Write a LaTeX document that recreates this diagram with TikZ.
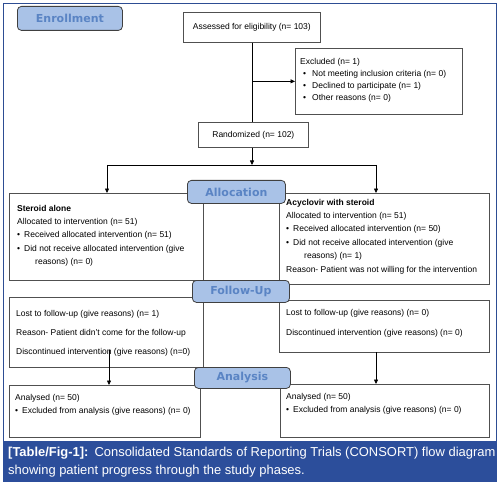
\documentclass[tikz,border=0pt]{standalone}
\usepackage{fontspec}
\setmainfont{Liberation Sans}
\newfontfamily\labfont{DejaVu Sans}
\usetikzlibrary{arrows.meta}
\definecolor{frameblue}{HTML}{2D4D93}
\definecolor{capblue}{HTML}{2C4E9B}
\definecolor{labfill}{HTML}{A9C2E7}
\definecolor{labtext}{HTML}{5A84C4}
\definecolor{boxline}{HTML}{505050}
\newcommand\myline[1]{\hbox{#1}}
\newcommand\mylines[2]{\vtop{\baselineskip=#1\relax\lineskiplimit=-30pt\lineskip=0pt #2}}
\newcommand\bul{\textbullet\hspace{4pt}}
\begin{document}
\begin{tikzpicture}[x=1pt,y=-1pt,
  box/.style={draw=boxline, line width=0.7pt, anchor=north west, inner sep=0pt, fill=white},
  phase/.style={draw=black!75, line width=0.8pt, fill=labfill, rounded corners=4pt, anchor=north west,
    inner sep=0pt, text=labtext, font=\labfont\bfseries\fontsize{11}{13}\selectfont},
  txt/.style={inner sep=0pt, anchor=base west, font=\fontsize{8.5}{10}\selectfont},
  ctxt/.style={inner sep=0pt, font=\fontsize{8.5}{10}\selectfont},
  arr/.style={draw=black, line width=0.7pt, -{Triangle[length=4.5pt,width=4pt]}},
  ln/.style={draw=black, line width=0.7pt}]
\useasboundingbox (0,0) rectangle (502,486);
\fill[white] (0,0) rectangle (502,486);
% frame and caption
\draw[frameblue, line width=1pt] (3.5,3.5) rectangle (496,441);
\node[fill=capblue, anchor=north west, inner sep=0pt, minimum width=494pt, minimum height=41pt] (capband) at (3,441) {};
\node[inner sep=0pt, anchor=base west, text=white, font=\fontsize{12.95}{17.5}\selectfont] (cap) at (8,456)
  {\mylines{18.5pt}{\myline{\textbf{[Table/Fig-1]:}\hspace{6pt}Consolidated Standards of Reporting Trials (CONSORT) flow diagram}\myline{showing patient progress through the study phases.}}};
% boxes
\node[box, minimum width=137pt, minimum height=30pt] (assess) at (183,12) {};
\node[ctxt] (assesst) at (assess.center) {Assessed for eligibility (n= 103)};
\node[box, minimum width=167pt, minimum height=66pt] (excl) at (295,48) {};
\node[txt] (exclt) at (300,65) {\mylines{12pt}{\myline{Excluded (n= 1)}%
  \myline{\hspace{3pt}\textbullet\hspace{6pt}Not meeting inclusion criteria (n= 0)}%
  \myline{\hspace{3pt}\textbullet\hspace{6pt}Declined to participate (n= 1)}%
  \myline{\hspace{3pt}\textbullet\hspace{6pt}Other reasons (n= 0)}}};
\node[box, minimum width=110pt, minimum height=25pt] (rand) at (198,122) {};
\node[ctxt] (randt) at (rand.center) {Randomized (n= 102)};
\node[box, minimum width=194pt, minimum height=87pt] (ster) at (9,193) {};
\node[txt] (stert) at (17,211) {\mylines{13.4pt}{\myline{\textbf{Steroid alone}}%
  \myline{Allocated to intervention (n= 51)}%
  \myline{\bul Received allocated intervention (n= 51)}%
  \myline{\bul Did not receive allocated intervention (give}%
  \myline{\hspace{18pt}reasons) (n= 0)}}};
\node[box, minimum width=210pt, minimum height=91pt] (acy) at (279,193) {};
\node[txt] (acyt) at (286,205) {\mylines{13.4pt}{\myline{\textbf{Acyclovir with steroid}}%
  \myline{Allocated to intervention (n= 51)}%
  \myline{\bul Received allocated intervention (n= 50)}%
  \myline{\bul Did not receive allocated intervention (give}%
  \myline{\hspace{18pt}reasons) (n= 1)}%
  \myline{Reason- Patient was not willing for the intervention}}};
\node[box, minimum width=194pt, minimum height=70pt] (fuL) at (9,297) {};
\node[txt] (fuLt) at (16,316) {\mylines{19pt}{\myline{Lost to follow-up (give reasons) (n= 1)}%
  \myline{Reason- Patient didn't come for the follow-up}%
  \myline{Discontinued intervention (give reasons) (n=0)}}};
\node[box, minimum width=210pt, minimum height=52pt] (fuR) at (279,300) {};
\node[txt] (fuRt) at (286,315) {\mylines{20pt}{\myline{Lost to follow-up (give reasons) (n= 0)}%
  \myline{Discontinued intervention (give reasons) (n= 0)}}};
\node[box, minimum width=191pt, minimum height=52pt] (anL) at (9,385) {};
\node[txt] (anLt) at (15,400) {\mylines{13pt}{\myline{Analysed (n= 50)}%
  \myline{\bul Excluded from analysis (give reasons) (n= 0)}}};
\node[box, minimum width=209pt, minimum height=53pt] (anR) at (280,384) {};
\node[txt] (anRt) at (286,399) {\mylines{13pt}{\myline{Analysed (n= 50)}%
  \myline{\bul Excluded from analysis (give reasons) (n= 0)}}};
% connectors
\coordinate (split) at (252,165);
\coordinate (bl) at (107,165);
\coordinate (br) at (376,165);
\draw[ln] (assess.south -| split) -- (rand.north -| split);
\draw[arr] (assess.south -| split) |- (excl.west);
\draw[arr] (rand.south -| split) -- (split);
\draw[ln] (bl) -- (br);
\draw[arr] (bl) -- (bl |- ster.north);
\draw[arr] (br) -- (br |- acy.north);
\coordinate (lf) at (109,350);
\draw[arr] (lf) -- (lf |- anL.north);
\coordinate (rf) at (376,352);
\draw[arr] (rf) -- (rf |- anR.north);
% phase labels
\node[phase, minimum width=105pt, minimum height=24pt] (enr) at (17,6) {Enrollment};
\node[phase, minimum width=98pt, minimum height=23pt] (alloc) at (187,180) {Allocation};
\node[phase, minimum width=97pt, minimum height=22pt] (fup) at (192,280) {Follow-Up};
\node[phase, minimum width=96pt, minimum height=21pt] (anl) at (194,367) {Analysis};
\end{tikzpicture}
\end{document}
